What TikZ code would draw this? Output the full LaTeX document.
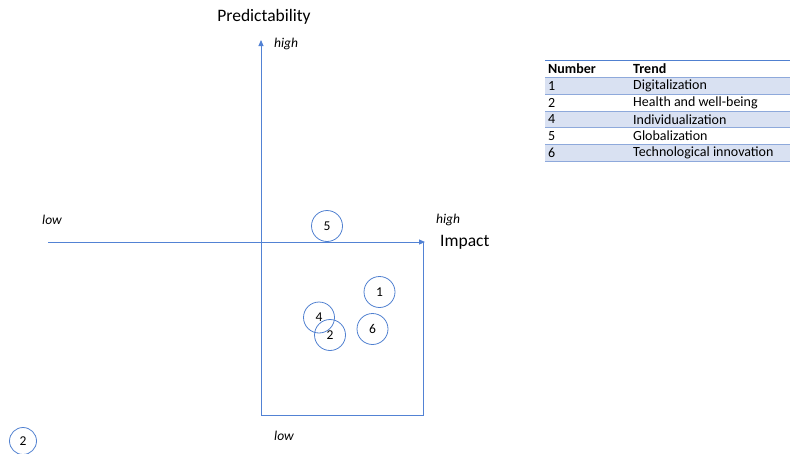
\documentclass[tikz,border=0pt]{standalone}
\usepackage{fontspec}
\setmainfont{Carlito}
\usetikzlibrary{arrows.meta}
\definecolor{axisblue}{HTML}{5282D4}
\definecolor{ringblue}{HTML}{5080D0}
\definecolor{rowshade}{HTML}{D9E1F2}
\definecolor{rowrule}{HTML}{8EA9DB}
\begin{document}
\begin{tikzpicture}[x=1pt,y=-1pt,
  axis/.style={draw=axisblue, line width=0.9pt, -{Triangle[length=6pt,width=5pt]}},
  frame/.style={draw=axisblue, line width=0.9pt},
  trend/.style={circle, draw=ringblue, line width=0.8pt, minimum size=#1, inner sep=0pt, font=\fontsize{13.5}{14}\selectfont},
  trend/.default=31pt,
  lvl/.style={font=\fontsize{13.5}{14}\selectfont\itshape, inner sep=0pt},
  title/.style={font=\fontsize{17.5}{19}\selectfont, inner sep=0pt},
  cell/.style={font=\fontsize{14}{15}\selectfont, inner sep=0pt, anchor=west},
  head/.style={cell, font=\fontsize{14}{15}\selectfont\bfseries}]
\useasboundingbox (0,0) rectangle (792,453);

% axes
\coordinate (origin) at (261,242);
\coordinate (ytop) at (261,40);
\coordinate (xleft) at (48,242);
\coordinate (xright) at (425,242);
\coordinate (bl) at (261,415);
\coordinate (br) at (423,415);
\coordinate (tr) at (423,242);
\draw[axis] (bl) -- (ytop);
\draw[axis] (xleft) -- (xright);
\draw[frame] (origin) -- (bl) -- (br) -- (tr);

% axis titles and levels
\node[title] (ptitle) at (264,17) {Predictability};
\node[title, anchor=west] (ititle) at (440,242) {Impact};
\node[lvl, anchor=west] (yhigh) at (274,44) {high};
\node[lvl, anchor=west] (xhigh) at (436,220) {high};
\node[lvl, anchor=west] (xlow) at (42,220) {low};
\node[lvl, anchor=west] (ylow) at (274,436) {low};

% trends
\node[trend] (t5) at (327,226) {5};
\node[trend] (t1) at (379.5,292) {1};
\node[trend] (t4) at (319,317.5) {4};
\node[trend] (t2) at (330,335) {2};
\node[trend] (t6) at (372.5,329) {6};
\node[trend=27pt] (t2b) at (23,441) {2};

% legend table
\fill[rowshade] (545,77.3) rectangle (790,94.1);
\fill[rowshade] (545,110.9) rectangle (790,127.7);
\fill[rowshade] (545,144.5) rectangle (790,161.3);
\draw[ringblue, line width=0.8pt] (545,60.5) -- (790,60.5);
\foreach \yy in {77.3,94.1,110.9,127.7,144.5,161.3}
  \draw[rowrule, line width=0.6pt] (545,\yy) -- (790,\yy);
\node[head] (hnum) at (548,69) {Number};
\node[head] (htrend) at (633,69) {Trend};
\node[cell] (n1) at (548,85.7) {1};
\node[cell] (r1) at (633,85.7) {Digitalization};
\node[cell] (n2) at (548,102.5) {2};
\node[cell] (r2) at (633,102.5) {Health and well-being};
\node[cell] (n4) at (548,119.3) {4};
\node[cell] (r4) at (633,119.3) {Individualization};
\node[cell] (n5) at (548,136.1) {5};
\node[cell] (r5) at (633,136.1) {Globalization};
\node[cell] (n6) at (548,152.9) {6};
\node[cell] (r6) at (633,152.9) {Technological innovation};
\end{tikzpicture}
\end{document}
